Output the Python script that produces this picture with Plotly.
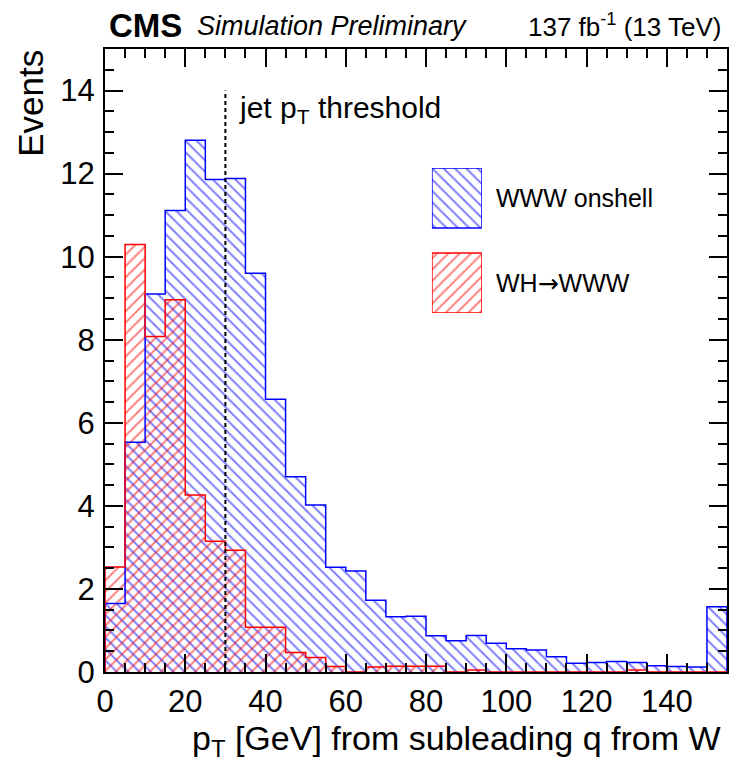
import plotly.graph_objects as go

# ---------------- data ----------------
bin_edges = list(range(0, 160, 5))  # 0..155
www_onshell = [1.65, 5.53, 9.10, 11.11, 12.80, 11.86, 11.88, 9.60, 6.57, 4.70,
               4.02, 2.52, 2.43, 1.73, 1.33, 1.34, 0.87, 0.75, 0.88, 0.69,
               0.56, 0.53, 0.37, 0.21, 0.23, 0.25, 0.23, 0.15, 0.13, 0.12, 1.57]
wh_www = [2.53, 10.29, 8.08, 8.96, 4.26, 3.15, 2.93, 1.08, 1.08, 0.47,
          0.35, 0.13, 0.0, 0.12, 0.14, 0.14, 0.14, 0.0, 0.05, 0.0,
          0.0, 0.0, 0.0, 0.0, 0.0, 0.0, 0.05, 0.0, 0.0, 0.0, 0.0]
series_names = ["WWW onshell", "WH<span style='font-family:DejaVu Sans'>\u2192</span>WWW"]
threshold = 30
x_ticks = [0, 20, 40, 60, 80, 100, 120, 140]
y_ticks = [0, 2, 4, 6, 8, 10, 12, 14]

BLUE = "#0000ff"
RED = "#ff0000"
FONT = "Liberation Sans, Arial, Helvetica, sans-serif"

centers = [(bin_edges[i] + bin_edges[i + 1]) / 2 for i in range(len(bin_edges) - 1)]
widths = [bin_edges[i + 1] - bin_edges[i] for i in range(len(bin_edges) - 1)]

fig = go.Figure()


def add_hist(vals, color, shape):
    fig.add_trace(go.Bar(
        x=centers, y=vals, width=widths,
        marker=dict(color="rgba(0,0,0,0)", line=dict(width=0),
                    pattern=dict(shape=shape, fgcolor=color, bgcolor="rgba(0,0,0,0)",
                                 fillmode="overlay", size=8, solidity=0.25)),
        showlegend=False, hoverinfo="skip"))


def add_step(vals, color):
    xs = [bin_edges[0]] + bin_edges[:-1] + [bin_edges[-1], bin_edges[-1]]
    ys = [0] + list(vals) + [vals[-1], 0]
    fig.add_trace(go.Scatter(x=xs, y=ys, mode="lines", line=dict(color=color, width=1.5, shape="hv"),
                             showlegend=False, hoverinfo="skip"))


add_hist(www_onshell, BLUE, "\\")
add_hist(wh_www, RED, "/")
add_step(www_onshell, BLUE)
add_step(wh_www, RED)

# legend boxes on an auxiliary axis pair
for (y0, y1, color, shape) in [(0.586, 1.0, BLUE, "\\"), (0.0, 0.414, RED, "/")]:
    fig.add_trace(go.Scatter(
        x=[0, 1, 1, 0, 0], y=[y0, y0, y1, y1, y0], xaxis="x2", yaxis="y2",
        mode="lines", fill="toself", fillcolor="rgba(0,0,0,0)",
        fillpattern=dict(shape=shape, fgcolor=color, bgcolor="rgba(0,0,0,0)",
                         fillmode="overlay", size=8, solidity=0.25),
        line=dict(color=color, width=1.5), showlegend=False, hoverinfo="skip"))

fig.add_shape(type="line", x0=threshold, x1=threshold, y0=0, y1=14, xref="x", yref="y",
              line=dict(color="black", width=2, dash="4px,3px"))

axis_common = dict(showline=True, linecolor="black", linewidth=2, mirror="allticks",
                   ticks="inside", tickcolor="black", tickwidth=1.5,
                   showgrid=False, zeroline=False,
                   tickfont=dict(family=FONT, size=31, color="black"))

fig.update_layout(
    width=730, height=763,
    margin=dict(l=105, r=1, t=49, b=91),
    paper_bgcolor="white", plot_bgcolor="white",
    barmode="overlay", bargap=0,
    font=dict(family=FONT, color="black"),
    xaxis=dict(range=[0, 155], tickvals=x_ticks, ticklen=18,
               minor=dict(dtick=5, ticklen=9, ticks="inside", tickcolor="black", tickwidth=1.5),
               ticklabelstandoff=1, **axis_common),
    yaxis=dict(range=[0, 15], tickvals=y_ticks, ticklen=18,
               minor=dict(dtick=0.5, ticklen=9, ticks="inside", tickcolor="black", tickwidth=1.5),
               ticklabelstandoff=2, **axis_common),
    xaxis2=dict(domain=[0.5256, 0.6058], range=[0, 1], visible=False, anchor="y2"),
    yaxis2=dict(domain=[0.5762, 0.809], range=[0, 1], visible=False, anchor="x2"),
)

ann = []
ann.append(dict(text="<b>CMS</b>", x=0.003, y=1.037, xref="paper", yref="paper",
                xanchor="left", yanchor="middle", showarrow=False,
                font=dict(family=FONT, size=33)))
ann.append(dict(text="<i>Simulation Preliminary</i>", x=0.144, y=1.037, xref="paper", yref="paper",
                xanchor="left", yanchor="middle", showarrow=False,
                font=dict(family=FONT, size=27)))
ann.append(dict(text="137 fb<sup>-1</sup> (13 TeV)", x=0.9936, y=1.037, xref="paper", yref="paper",
                xanchor="right", yanchor="middle", showarrow=False,
                font=dict(family=FONT, size=26)))
ann.append(dict(text="Events", x=-0.12, y=(672 - 103.5) / 623, xref="paper", yref="paper",
                xanchor="center", yanchor="middle", textangle=-90, showarrow=False,
                font=dict(family=FONT, size=35)))
ann.append(dict(text="p<sub>T</sub> [GeV] from subleading q from W", x=0.9936, y=(672 - 740) / 623,
                xref="paper", yref="paper", xanchor="right", yanchor="middle", showarrow=False,
                font=dict(family=FONT, size=34)))
ann.append(dict(text="jet p<sub>T</sub> threshold", x=32.9, y=13.55, xref="x", yref="y",
                xanchor="left", yanchor="middle", showarrow=False,
                font=dict(family=FONT, size=30)))
ann.append(dict(text=series_names[0], x=(495 - 105) / 624, y=(672 - 198) / 623, xref="paper", yref="paper",
                xanchor="left", yanchor="middle", showarrow=False, font=dict(family=FONT, size=25)))
ann.append(dict(text=series_names[1], x=(495 - 105) / 624, y=(672 - 283) / 623, xref="paper", yref="paper",
                xanchor="left", yanchor="middle", showarrow=False, font=dict(family=FONT, size=25)))
fig.update_layout(annotations=ann)

fig.write_html("out.html")
